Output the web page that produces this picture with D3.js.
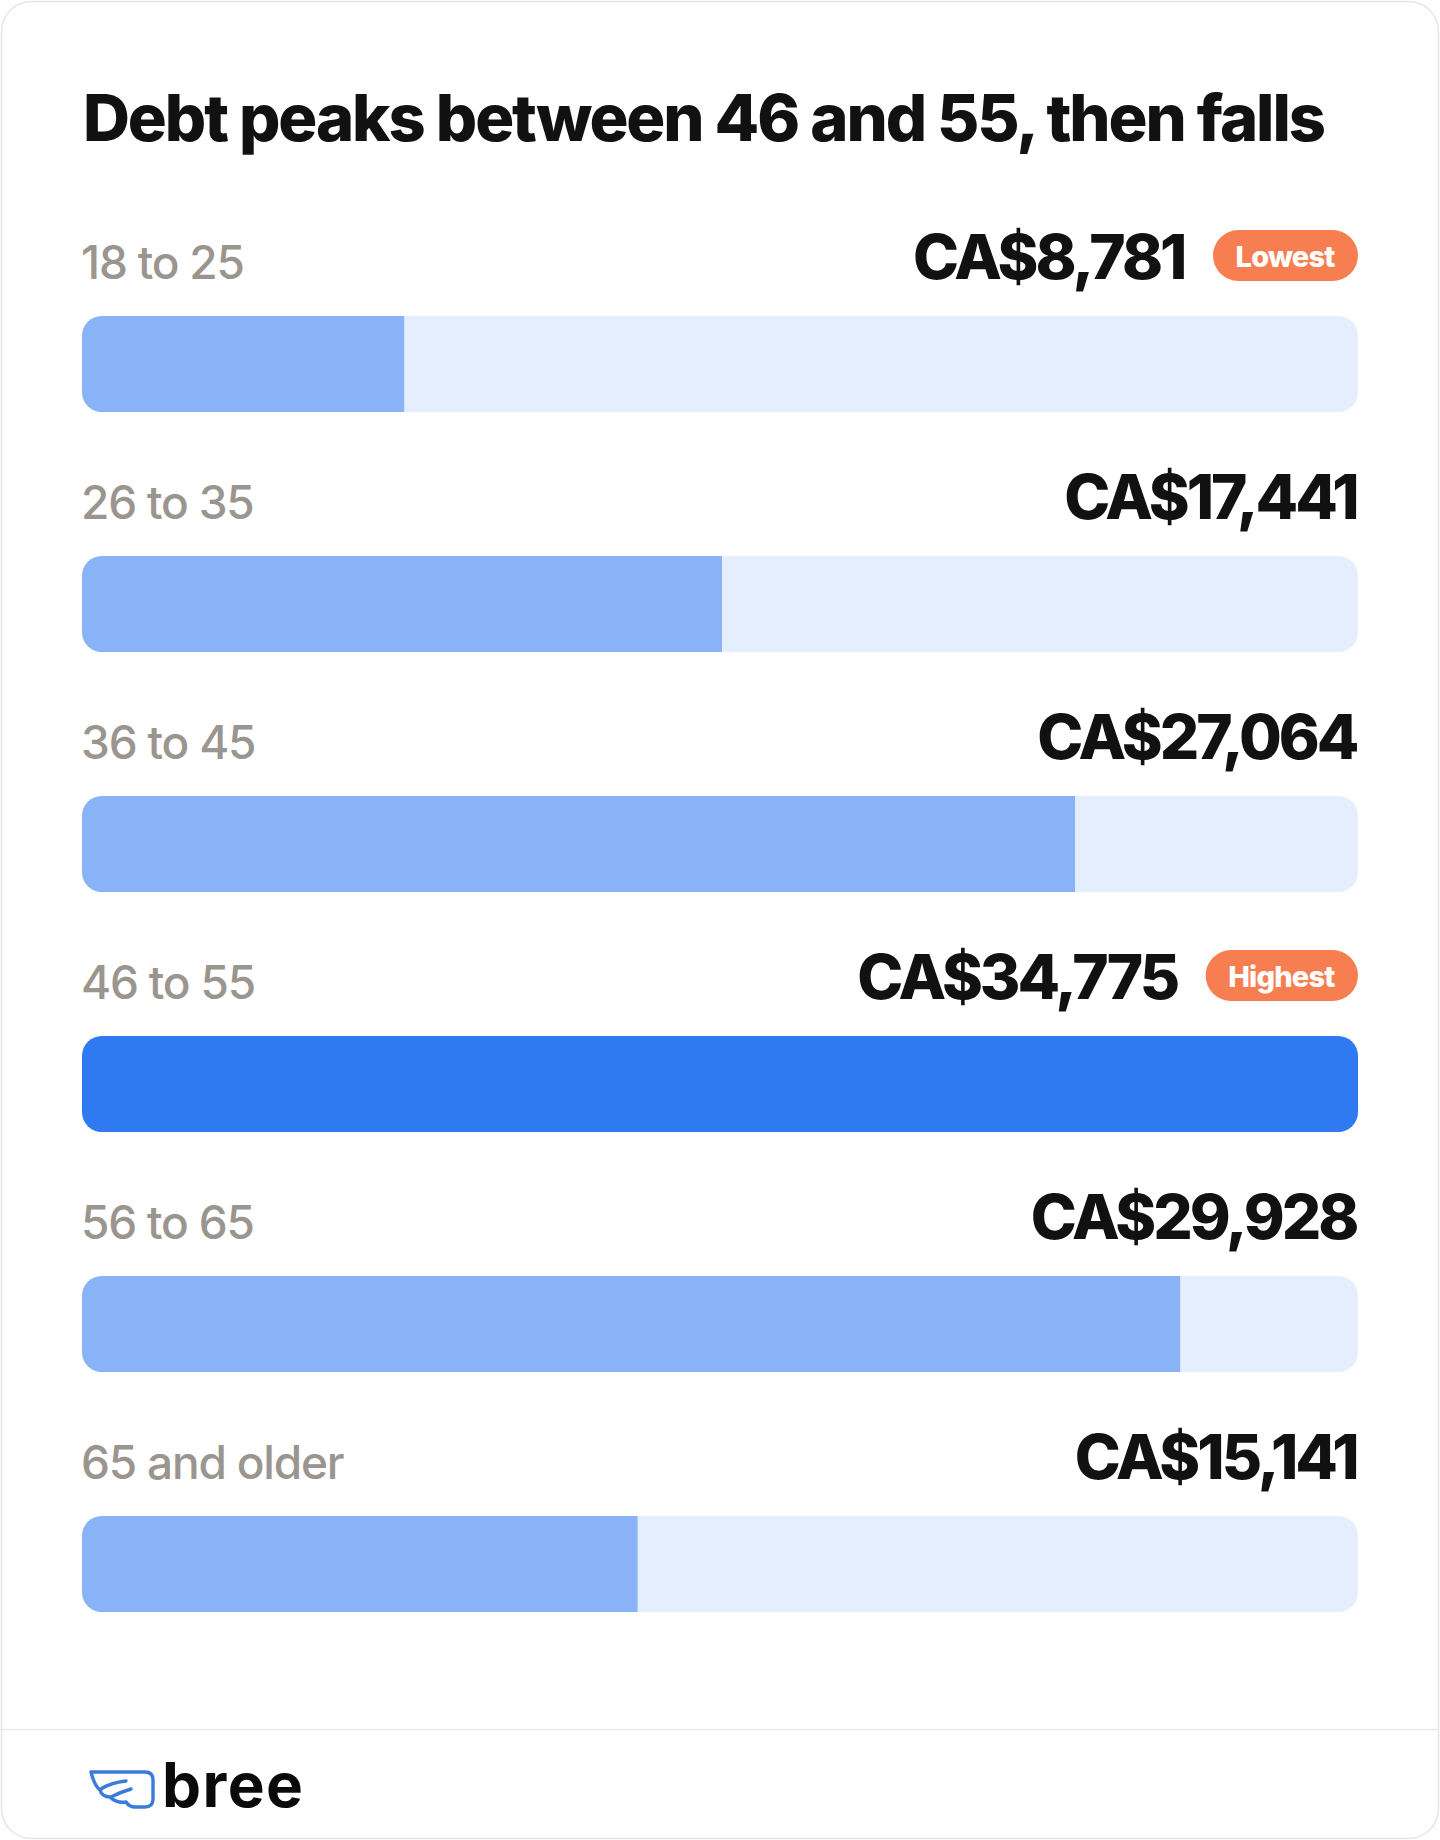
<!DOCTYPE html>
<html>
<head>
<meta charset="utf-8">
<script src="https://cdn.jsdelivr.net/npm/d3@7"></script>
<style>
  html, body { margin: 0; padding: 0; background: #ffffff; }
  svg { display: block; }
  text { font-family: Inter, "Noto Sans", sans-serif; }
</style>
</head>
<body>
<svg id="chart" width="1440" height="1840"></svg>
<script>
// ---- data ----
const title = "Debt peaks between 46 and 55, then falls";
const ageGroups = ["18 to 25", "26 to 35", "36 to 45", "46 to 55", "56 to 65", "65 and older"];
const debtValues = [8781, 17441, 27064, 34775, 29928, 15141];
const currencyPrefix = "CA$";
const badgeLabels = ["Lowest", "Highest"]; // [for minimum, for maximum]
const brandName = "bree";

// ---- layout ----
const W = 1440, H = 1840;
const left = 82, right = 1358;
const firstBarTop = 316, rowStep = 240, barH = 96, barR = 20;
const labelGap = 37;

const svg = d3.select("#chart");

// card
svg.append("rect")
  .attr("x", 1.5).attr("y", 1.5).attr("width", W - 3).attr("height", H - 3)
  .attr("rx", 30).attr("fill", "#ffffff")
  .attr("stroke", "#E7E4E1").attr("stroke-width", 1.5);

// divider
svg.append("line")
  .attr("x1", 2).attr("x2", W - 2).attr("y1", 1729.5).attr("y2", 1729.5)
  .attr("stroke", "#ECEAE8").attr("stroke-width", 1.5);

// fit helper: adjust letter-spacing so text hits a target width
function fitWidth(sel, target) {
  const node = sel.node();
  const n = sel.text().length;
  const w = node.getComputedTextLength();
  const ls = (target - w) / Math.max(1, n - 1);
  sel.attr("letter-spacing", ls.toFixed(2));
}

// title
const titleText = svg.append("text")
  .attr("x", 83).attr("y", 141)
  .attr("font-size", 65).attr("font-weight", 800).attr("fill", "#111111")
  .text(title);
fitWidth(titleText, 1243);

// scales
const x = d3.scaleLinear().domain([0, d3.max(debtValues)]).range([0, right - left]);
const y = d3.scaleBand().domain(ageGroups).range([firstBarTop, firstBarTop + rowStep * ageGroups.length]).paddingInner(0).paddingOuter(0);
const minIdx = d3.minIndex(debtValues), maxIdx = d3.maxIndex(debtValues);
const fmt = d3.format(",");

const defs = svg.append("defs");

const rows = svg.selectAll("g.row")
  .data(ageGroups.map((g, i) => ({ group: g, value: debtValues[i], i })))
  .join("g").attr("class", "row");

const valueSpacing = -3;

rows.each(function(d) {
  const g = d3.select(this);
  const top = y(d.group);
  const base = top - labelGap;

  // clip
  defs.append("clipPath").attr("id", "clip" + d.i)
    .append("rect").attr("x", left).attr("y", top)
    .attr("width", right - left).attr("height", barH).attr("rx", barR);

  // track
  g.append("rect")
    .attr("x", left).attr("y", top).attr("width", right - left).attr("height", barH)
    .attr("rx", barR).attr("fill", "#E4EEFD");

  // fill
  g.append("rect")
    .attr("clip-path", "url(#clip" + d.i + ")")
    .attr("x", left).attr("y", top).attr("width", x(d.value)).attr("height", barH)
    .attr("fill", d.i === maxIdx ? "#2F79F1" : "#8AB2F6");

  // label
  g.append("text")
    .attr("x", left - 1).attr("y", base)
    .attr("font-size", 46).attr("font-weight", 500).attr("fill", "#9B9590")
    .attr("letter-spacing", -1.2)
    .text(d.group);

  // badge
  let valueRight = right;
  const badgeText = d.i === minIdx ? badgeLabels[0] : (d.i === maxIdx ? badgeLabels[1] : null);
  if (badgeText) {
    const bt = g.append("text")
      .attr("y", base - 12)
      .attr("font-size", 29).attr("font-weight", 800).attr("fill", "#ffffff")
      .attr("letter-spacing", -0.8)
      .text(badgeText);
    const tw = bt.node().getComputedTextLength();
    const bw = tw + 46, bh = 51;
    const bx = right - bw;
    g.insert("rect", "text:last-of-type")
      .attr("x", bx).attr("y", base - 49).attr("width", bw).attr("height", bh)
      .attr("rx", bh / 2).attr("fill", "#F77E51");
    bt.attr("x", bx + bw / 2 - 0.4).attr("text-anchor", "middle");
    valueRight = bx - 27;
  }

  // value
  g.append("text")
    .attr("x", valueRight - 1.5).attr("y", base)
    .attr("text-anchor", "end")
    .attr("font-size", 62).attr("font-weight", 800).attr("fill", "#111111")
    .attr("letter-spacing", valueSpacing)
    .text(currencyPrefix + fmt(d.value));
});

// logo: wing icon
const wing = svg.append("g").attr("transform", "translate(90,1770)")
  .attr("fill", "none").attr("stroke", "#3A7BDC").attr("stroke-width", 3.4)
  .attr("stroke-linecap", "round").attr("stroke-linejoin", "round");
wing.append("path")
  .attr("d", "M1,2 H55 Q63,2 63,10 V29 Q63,37 55,37 H45 C41,37 38,35 36,32 C30,33 24,31 20,27 C15,27 11,24 10,20 C6,17 3,10 1,2 Z");
wing.append("path").attr("d", "M11,19 C17,15 27,12 36,11");
wing.append("path").attr("d", "M21,27 C27,24 34,21 41,19");

const brand = svg.append("text")
  .attr("x", 162).attr("y", 1807)
  .attr("font-size", 62).attr("font-weight", 700).attr("fill", "#0A0A0A")
  .text(brandName);
fitWidth(brand, 141);
</script>
</body>
</html>
